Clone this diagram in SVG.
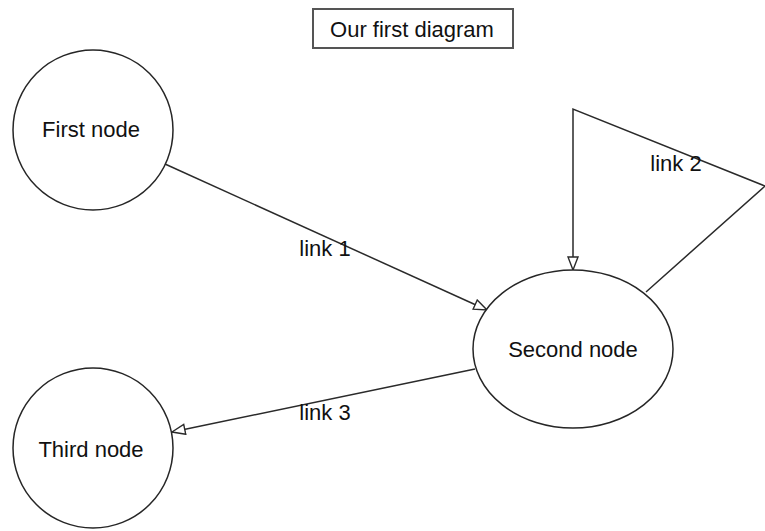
<svg xmlns="http://www.w3.org/2000/svg" width="765" height="531" viewBox="0 0 765 531">
  <style>
    .node { fill: #ffffff; stroke: #262626; stroke-width: 1.5; }
    .edge { fill: none; stroke: #2a2a2a; stroke-width: 1.5; }
    .label { font-family: "Liberation Sans", Arial, sans-serif; font-size: 22px; fill: #111111; text-anchor: middle; }
    .title-box { fill: #ffffff; stroke: #555555; stroke-width: 2; }
  </style>
  <defs>
    <marker id="open-arrow" viewBox="0 0 15 13" refX="14" refY="6.5" markerWidth="15" markerHeight="13" markerUnits="userSpaceOnUse" orient="auto">
      <path d="M1,1.5 L14,6.5 L1,11.5 Z" fill="#ffffff" stroke="#2a2a2a" stroke-width="1.4"/>
    </marker>
  </defs>
  <rect width="765" height="531" fill="#ffffff"/>

  <!-- title -->
  <g id="title">
    <rect class="title-box" x="313" y="9" width="200" height="39"/>
    <text class="label" x="412" y="37">Our first diagram</text>
  </g>

  <!-- connectors -->
  <g id="connectors">
    <g id="link1">
      <line class="edge" x1="165" y1="164" x2="487" y2="310" marker-end="url(#open-arrow)"/>
      <text class="label" x="325" y="256">link 1</text>
    </g>
    <g id="link2">
      <polyline class="edge" points="646,292 765,186 573,109 573,270" marker-end="url(#open-arrow)"/>
      <text class="label" x="676" y="171">link 2</text>
    </g>
    <g id="link3">
      <line class="edge" x1="475" y1="369" x2="172" y2="432" marker-end="url(#open-arrow)"/>
      <text class="label" x="325" y="420">link 3</text>
    </g>
  </g>

  <!-- nodes -->
  <g id="first-node">
    <circle class="node" cx="93" cy="130" r="80"/>
    <text class="label" x="91" y="137">First node</text>
  </g>
  <g id="second-node">
    <ellipse class="node" cx="573" cy="349" rx="100" ry="79"/>
    <text class="label" x="573" y="357">Second node</text>
  </g>
  <g id="third-node">
    <circle class="node" cx="93" cy="448" r="80"/>
    <text class="label" x="91" y="457">Third node</text>
  </g>
</svg>
